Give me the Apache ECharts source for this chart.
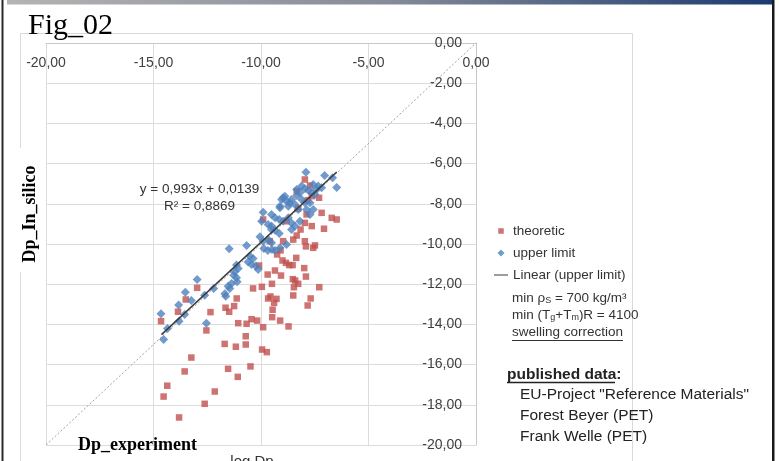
<!DOCTYPE html>
<html>
<head>
<meta charset="utf-8">
<script src="https://cdn.jsdelivr.net/npm/echarts@6/dist/echarts.min.js"></script>
<style>
  html, body { margin: 0; padding: 0; background: #fff; }
  #fig { width: 779px; height: 461px; }
</style>
</head>
<body>
<div id="fig"></div>
<script>
// log Dp experiment vs in silico
var theoretic = [
  [-12.54, -14.30], [-10.71, -14.59], [-11.69, -14.97], [-11.17, -15.11], [-10.71, -15.00],
  [-9.95, -15.25], [-9.73, -15.38], [-13.24, -15.65], [-13.55, -16.34], [-11.53, -16.21],
  [-10.49, -16.09], [-11.08, -16.61], [-14.36, -17.05], [-14.53, -17.59], [-12.15, -17.34],
  [-12.62, -17.95], [-13.81, -18.63],
  [-12.97, -12.18], [-13.50, -12.76], [-14.65, -13.84], [-13.86, -13.37], [-12.35, -13.39],
  [-11.13, -12.71], [-11.65, -13.17], [-11.25, -13.09], [-11.48, -13.37], [-11.06, -13.94],
  [-10.67, -13.97], [-10.44, -13.74], [-10.18, -13.81], [-9.90, -14.14], [-9.48, -13.64],
  [-9.11, -13.81], [-8.72, -14.10], [-10.37, -12.21], [-9.96, -12.13], [-9.49, -11.98],
  [-9.69, -11.52], [-9.35, -11.32], [-9.07, -11.57], [-10.09, -11.07], [-9.67, -12.71],
  [-9.56, -12.61], [-9.28, -12.73], [-9.39, -12.93], [-9.46, -13.27], [-8.50, -12.56],
  [-7.83, -13.06], [-7.69, -12.71], [-8.47, -12.15], [-8.27, -11.98], [-8.52, -11.75],
  [-8.41, -11.82], [-7.91, -11.62], [-7.29, -12.15], [-7.99, -11.20], [-8.36, -10.69],
  [-9.00, -10.82], [-8.84, -10.94], [-8.69, -11.05], [-8.53, -11.05], [-9.25, -10.52],
  [-9.09, -10.32], [-7.91, -10.12], [-7.57, -10.19],
  [-7.96, -6.79], [-7.64, -7.62], [-8.27, -8.23], [-7.88, -8.53], [-9.90, -8.78],
  [-8.81, -8.87], [-7.96, -8.95], [-7.64, -9.11], [-6.71, -8.70], [-6.48, -8.78],
  [-7.18, -8.45], [-8.50, -9.78], [-8.34, -9.58], [-8.97, -9.86], [-7.96, -9.86],
  [-7.49, -10.07], [-7.82, -7.82], [-7.30, -7.70], [-7.07, -9.24], [-9.59, -9.86],
  [-8.16, -9.28], [-8.34, -7.37], [-7.72, -7.09]
];

var upperLimit = [
  [-7.91, -6.43], [-7.04, -6.59], [-6.67, -6.71], [-6.48, -7.19], [-7.57, -7.04],
  [-7.34, -7.12], [-7.18, -7.20], [-7.80, -7.32], [-7.64, -7.45], [-7.49, -7.54],
  [-8.19, -7.45], [-8.34, -7.59], [-8.89, -7.62], [-9.04, -7.79], [-8.81, -7.87],
  [-8.58, -7.79], [-8.11, -7.79], [-7.96, -7.95], [-7.72, -7.95], [-9.12, -8.12],
  [-8.73, -8.12], [-8.42, -8.03], [-8.27, -8.28], [-9.90, -8.42], [-9.51, -8.53],
  [-9.35, -8.70], [-9.15, -8.78], [-8.97, -8.87], [-8.73, -8.70], [-8.58, -8.95],
  [-8.42, -9.11], [-9.51, -9.11], [-9.35, -9.31], [-9.15, -9.48], [-10.05, -9.64],
  [-9.90, -9.86], [-9.67, -9.78], [-9.51, -9.94], [-10.67, -10.07], [-11.48, -10.24],
  [-7.88, -8.28], [-7.72, -8.53], [-7.57, -8.28],
  [-9.87, -10.22], [-9.68, -10.32], [-9.49, -10.27], [-9.35, -10.32], [-10.52, -10.61],
  [-10.37, -10.72], [-10.60, -10.89], [-10.44, -11.02], [-10.24, -11.10], [-10.13, -11.27],
  [-11.14, -11.05], [-11.06, -11.22], [-11.22, -11.38], [-11.27, -11.55], [-11.14, -11.68],
  [-11.11, -11.88], [-11.37, -11.97], [-11.53, -12.10], [-11.45, -12.21], [-11.68, -12.48],
  [-11.64, -12.60], [-12.97, -11.77], [-12.20, -12.21], [-12.62, -12.55], [-13.52, -12.40],
  [-13.24, -12.81], [-13.83, -13.04], [-13.55, -13.51], [-14.65, -13.47], [-14.35, -14.20],
  [-13.81, -13.84], [-12.54, -13.94], [-14.53, -14.75],
  [-8.34, -7.29], [-8.11, -7.12], [-7.96, -7.25], [-7.41, -7.29], [-8.97, -7.70],
  [-8.66, -7.95], [-9.12, -8.20], [-9.12, -10.19], [-8.81, -10.02], [-8.58, -9.28],
  [-8.19, -8.87], [-9.97, -8.87], [-9.67, -9.03], [-9.51, -9.28]
];

// trend line ends (Excel linear fit of upper limit)
var fitLine = [[-14.63, -14.51], [-6.48, -6.42]];
// y = x reference
var diagonal = [[-20, -20], [0, 0]];

var equationText = 'y = 0,993x + 0,0139';
var r2Text = 'R² = 0,8869';

function fmt(v) {
  return v.toFixed(2).replace('.', ',');
}

var sans = 'Liberation Sans, Arial, sans-serif';
var serif = 'Liberation Serif, Times New Roman, serif';

// legend icons padded to a 14x7 box so they keep their size
var iconSquare = 'path://M0,0M4.25,0.75h5.5v5.5h-5.5zM14,7';
var iconDiamond = 'path://M0,0M7,0L10.5,3.5L7,7L3.5,3.5zM14,7';
var iconLine = 'path://M0,0M0,3h14v1h-14zM14,7';

var chart = echarts.init(document.getElementById('fig'));

var option = {
  animation: false,
  backgroundColor: '#fff',
  grid: { left: 46, top: 43, width: 430, height: 402 },
  xAxis: {
    type: 'value',
    min: -20,
    max: 0,
    interval: 5,
    position: 'top',
    axisLine: { show: true, onZero: false, lineStyle: { color: '#c8c8c8' } },
    axisTick: { show: false },
    axisLabel: { inside: true, margin: 13, formatter: fmt, color: '#404040', fontSize: 14, fontFamily: sans },
    splitLine: { lineStyle: { color: '#dcdcdc' } }
  },
  yAxis: {
    type: 'value',
    min: -20,
    max: 0,
    interval: 2,
    position: 'right',
    axisLine: { show: true, onZero: false, lineStyle: { color: '#c8c8c8' } },
    axisTick: { show: false },
    axisLabel: { inside: true, margin: 14, formatter: fmt, color: '#404040', fontSize: 14, fontFamily: sans },
    splitLine: { lineStyle: { color: '#dcdcdc' } }
  },
  legend: {
    orient: 'vertical',
    left: 489,
    top: 219,
    itemWidth: 14,
    itemHeight: 7,
    itemGap: 8,
    textStyle: { fontSize: 13.5, lineHeight: 14, color: '#333', fontFamily: sans },
    data: [
      { name: 'theoretic', icon: iconSquare },
      { name: 'upper limit', icon: iconDiamond },
      { name: 'Linear (upper limit)', icon: iconLine }
    ]
  },
  series: [
    {
      name: 'diag',
      type: 'line',
      data: diagonal,
      symbol: 'none',
      silent: true,
      lineStyle: { color: '#a0a0a0', width: 1, type: [2, 2] },
      z: 1
    },
    {
      name: 'theoretic',
      type: 'scatter',
      data: theoretic,
      symbol: 'rect',
      symbolSize: 6.5,
      itemStyle: { color: '#c0504d' },
      z: 2
    },
    {
      name: 'upper limit',
      type: 'scatter',
      data: upperLimit,
      symbol: 'diamond',
      symbolSize: 9,
      itemStyle: { color: '#4f81bd' },
      z: 3
    },
    {
      name: 'Linear (upper limit)',
      type: 'line',
      data: fitLine,
      symbol: 'none',
      lineStyle: { color: '#3a3a3a', width: 1.5 },
      itemStyle: { color: '#3a3a3a' },
      z: 4
    }
  ],
  graphic: [
    // slide frame
    {
      type: 'rect', z: 100,
      shape: { x: 7, y: 0, width: 765, height: 4.5 },
      style: {
        fill: new echarts.graphic.LinearGradient(0, 0, 1, 0, [
          { offset: 0, color: '#b4b4b4' },
          { offset: 0.5, color: '#858b98' },
          { offset: 1, color: '#1c3a70' }
        ])
      }
    },
    { type: 'rect', z: 100, shape: { x: 1.5, y: 0, width: 2, height: 461 }, style: { fill: '#2a2a2a' } },
    { type: 'rect', z: 100, shape: { x: 772, y: 0, width: 2.5, height: 461 }, style: { fill: '#1a1a1a' } },
    // chart area border
    { type: 'rect', z: -1, shape: { x: 20.5, y: 33.5, width: 612, height: 440 }, style: { fill: 'none', stroke: '#d9d9d9', lineWidth: 1 } },

    { type: 'text', z: 100, x: 28, y: 26, style: { text: 'Fig_02', font: '30px ' + serif, fill: '#000', verticalAlign: 'middle' } },

    // y title box
    { type: 'rect', z: 100, shape: { x: 17, y: 148, width: 26, height: 124 }, style: { fill: '#fff' } },
    {
      type: 'text', z: 101, x: 30, y: 214, rotation: Math.PI / 2,
      style: { text: 'Dp_In_silico', font: 'bold 18px ' + serif, fill: '#000', align: 'center', verticalAlign: 'middle' }
    },
    { type: 'text', z: 101, x: 78, y: 445, style: { text: 'Dp_experiment', font: 'bold 18px ' + serif, fill: '#000', verticalAlign: 'middle' } },
    { type: 'text', z: 101, x: 252, y: 462, style: { text: 'log Dp', font: '15px ' + sans, fill: '#333', align: 'center', verticalAlign: 'middle' } },

    // trend equation
    { type: 'text', z: 101, x: 199.5, y: 189, style: { text: equationText, font: '13.5px ' + sans, fill: '#333', align: 'center', verticalAlign: 'middle' } },
    { type: 'text', z: 101, x: 199.5, y: 206, style: { text: r2Text, font: '13.5px ' + sans, fill: '#333', align: 'center', verticalAlign: 'middle' } },

    // legend notes
    {
      type: 'text', z: 101, x: 512, y: 298,
      style: {
        text: 'min ρ{s|S} = 700 kg/m³',
        font: '13.5px ' + sans, fill: '#333', verticalAlign: 'middle',
        rich: { s: { fontSize: 9, fontFamily: sans, fill: '#333', verticalAlign: 'bottom', lineHeight: 9 } }
      }
    },
    {
      type: 'text', z: 101, x: 512, y: 315,
      style: {
        text: 'min (T{s|g}+T{s|m})R = 4100',
        font: '13.5px ' + sans, fill: '#333', verticalAlign: 'middle',
        rich: { s: { fontSize: 9, fontFamily: sans, fill: '#333', verticalAlign: 'bottom', lineHeight: 9 } }
      }
    },
    { type: 'text', z: 101, x: 512, y: 332.5, style: { text: 'swelling correction', font: '13.5px ' + sans, fill: '#333', verticalAlign: 'middle' } },
    { type: 'line', z: 101, shape: { x1: 512, y1: 340.5, x2: 623, y2: 340.5 }, style: { stroke: '#333', lineWidth: 1 } },

    { type: 'text', z: 101, x: 507, y: 374.5, style: { text: 'published data:', font: 'bold 15.5px ' + sans, fill: '#222', verticalAlign: 'middle' } },
    { type: 'line', z: 101, shape: { x1: 507, y1: 382.5, x2: 615, y2: 382.5 }, style: { stroke: '#222', lineWidth: 1.5 } },
    { type: 'text', z: 101, x: 520, y: 395, style: { text: 'EU-Project "Reference Materials"', font: '15.5px ' + sans, fill: '#222', verticalAlign: 'middle' } },
    { type: 'text', z: 101, x: 520, y: 416, style: { text: 'Forest Beyer (PET)', font: '15.5px ' + sans, fill: '#222', verticalAlign: 'middle' } },
    { type: 'text', z: 101, x: 520, y: 437, style: { text: 'Frank Welle (PET)', font: '15.5px ' + sans, fill: '#222', verticalAlign: 'middle' } }
  ]
};

chart.setOption(option);
</script>
</body>
</html>
